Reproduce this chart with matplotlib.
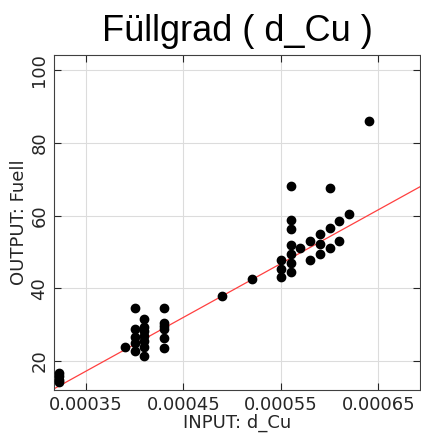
import matplotlib
matplotlib.use("Agg")
import matplotlib.pyplot as plt
import numpy as np

# data
d_cu = [0.000322, 0.000322, 0.000322, 0.000322,
        0.000390,
        0.000400, 0.000400, 0.000400, 0.000400, 0.000400,
        0.000410, 0.000410, 0.000410, 0.000410, 0.000410, 0.000410, 0.000410,
        0.000430, 0.000430, 0.000430, 0.000430, 0.000430, 0.000430,
        0.000490, 0.000520,
        0.000550, 0.000550, 0.000550,
        0.000560, 0.000560, 0.000560, 0.000560, 0.000560, 0.000560, 0.000560,
        0.000570,
        0.000580, 0.000580,
        0.000590, 0.000590, 0.000590,
        0.000600, 0.000600, 0.000600,
        0.000610, 0.000610,
        0.000620,
        0.000640]
fuell = [16.8, 15.8, 14.9, 14.2,
         23.9,
         34.7, 28.7, 26.5, 25.0, 22.7,
         31.6, 29.4, 28.3, 26.9, 25.6, 23.9, 21.4,
         34.7, 30.5, 29.6, 28.7, 26.2, 23.5,
         37.8, 42.5,
         47.7, 45.4, 43.2,
         68.2, 58.8, 56.4, 51.8, 49.5, 46.9, 44.6,
         51.1,
         53.0, 47.9,
         54.8, 52.2, 49.5,
         67.5, 56.6, 51.1,
         58.6, 53.0,
         60.5,
         86.0]

# fitted line (slope, intercept)
fit_slope = 147800.0
fit_intercept = -34.5

x_ticks = [0.00035, 0.00045, 0.00055, 0.00065]
x_ticklabels = ["0.00035", "0.00045", "0.00055", "0.00065"]
y_ticks = [20, 40, 60, 80, 100]

fig = plt.figure(figsize=(4.21, 4.34), dpi=100)
ax = fig.add_axes([0.128, 0.101, 0.87, 0.773])

xlim = (0.000317, 0.000693)
ax.set_xlim(*xlim)
ax.set_ylim(12.0, 104.2)

ax.grid(True, color="#dcdcdc", linewidth=0.8)
ax.set_axisbelow(True)

xl = np.array(xlim)
ax.plot(xl, fit_slope * xl + fit_intercept, color="#ff4040", linewidth=0.9, zorder=2)
ax.plot(d_cu, fuell, "o", color="black", markersize=6, zorder=3)

ax.set_xticks(x_ticks)
ax.set_xticklabels(x_ticklabels)
ax.set_yticks(y_ticks)
for lab in ax.get_yticklabels():
    lab.set_rotation(90)
    lab.set_va("center")

ax.tick_params(direction="in", length=5, width=0.8, top=True, right=True,
               labelsize=13, colors="#262626", pad=4)
for sp in ax.spines.values():
    sp.set_color("#404040")
    sp.set_linewidth(0.8)

ax.set_xlabel("INPUT: d_Cu", fontsize=13, color="#262626", labelpad=0)
ax.set_ylabel("OUTPUT: Fuell", fontsize=13, color="#262626", labelpad=2)
ax.set_title("Füllgrad ( d_Cu )", fontsize=26, family="Liberation Sans", pad=10)

fig.savefig("out.png", dpi=100)
